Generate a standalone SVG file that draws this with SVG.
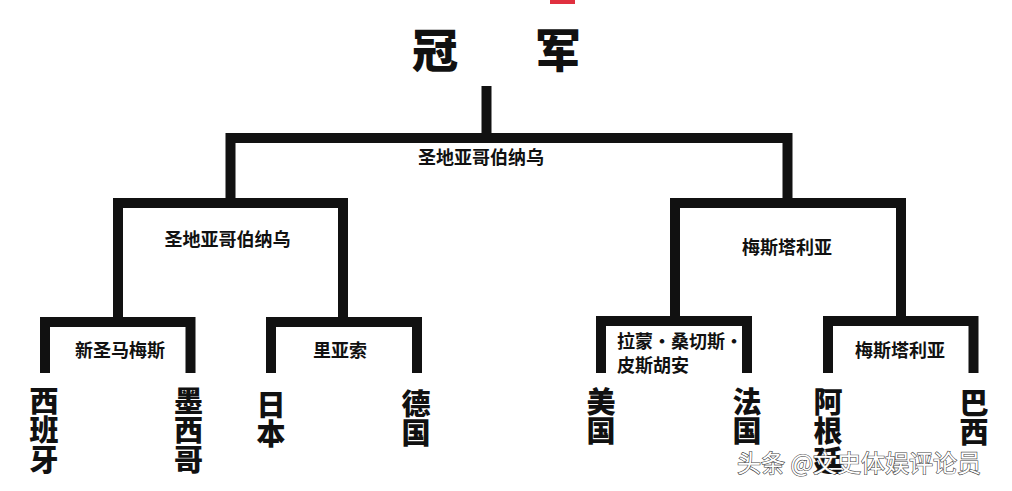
<svg xmlns="http://www.w3.org/2000/svg" width="1012" height="491" viewBox="0 0 1012 491">
  <style>
    .ln { fill: none; stroke: #111; stroke-width: 10; stroke-linejoin: miter; stroke-linecap: butt; }
    .title { font-family: "Noto Sans CJK SC", sans-serif; font-weight: 900; font-size: 46px; fill: #111; text-anchor: middle; }
    .venue { font-family: "Noto Sans CJK SC", sans-serif; font-weight: 700; font-size: 18px; fill: #111; text-anchor: middle; }
    .team { font-family: "Noto Sans CJK SC", sans-serif; font-weight: 900; font-size: 29px; fill: #111; writing-mode: vertical-rl; letter-spacing: 0.5px; }
    .wm { font-family: "Noto Sans CJK SC", sans-serif; font-weight: 400; font-size: 24px; fill: #fff; stroke: #444; stroke-width: 1.2; paint-order: stroke; }
  </style>
  <rect width="1012" height="491" fill="#fff"/>
  <rect x="550" y="0" width="25" height="4" fill="#e0303f"/>

  <g id="connectors">
    <path class="ln" d="M486.5 86 V138"/>
    <path class="ln" d="M230.5 203 V138 H787.5 V203"/>
    <path class="ln" d="M118 322 V203 H343 V322"/>
    <path class="ln" d="M675 321 V203 H901 V321"/>
    <path class="ln" d="M45 373 V322 H190.5 V373"/>
    <path class="ln" d="M271 373 V322 H417 V373"/>
    <path class="ln" d="M601 373 V321 H747 V373"/>
    <path class="ln" d="M828 373 V321 H973.5 V373"/>
  </g>

  <g id="champion">
    <text class="title" x="435" y="67">冠</text>
    <text class="title" x="558" y="67">军</text>
  </g>

  <g id="final"><text class="venue" x="481" y="164">圣地亚哥伯纳乌</text></g>
  <g id="semi-left"><text class="venue" x="227.5" y="246">圣地亚哥伯纳乌</text></g>
  <g id="semi-right"><text class="venue" x="787" y="254">梅斯塔利亚</text></g>
  <g id="qf1"><text class="venue" x="120" y="357">新圣马梅斯</text></g>
  <g id="qf2"><text class="venue" x="340" y="357">里亚索</text></g>
  <g id="qf3">
    <text class="venue" x="617" y="348" style="text-anchor:start">拉蒙·桑切斯·</text>
    <text class="venue" x="617" y="372" style="text-anchor:start">皮斯胡安</text>
  </g>
  <g id="qf4"><text class="venue" x="900" y="357">梅斯塔利亚</text></g>

  <g id="spain"><text class="team" x="44" y="386">西班牙</text></g>
  <g id="mexico"><text class="team" x="188.5" y="386">墨西哥</text></g>
  <g id="japan"><text class="team" x="271" y="390">日本</text></g>
  <g id="germany"><text class="team" x="416" y="389">德国</text></g>
  <g id="usa"><text class="team" x="601" y="387">美国</text></g>
  <g id="france"><text class="team" x="747" y="387">法国</text></g>
  <g id="argentina"><text class="team" x="828" y="387">阿根廷</text></g>
  <g id="brazil"><text class="team" x="974" y="388">巴西</text></g>

  <text class="wm" x="737" y="472">头条 @文史体娱评论员</text>
</svg>
